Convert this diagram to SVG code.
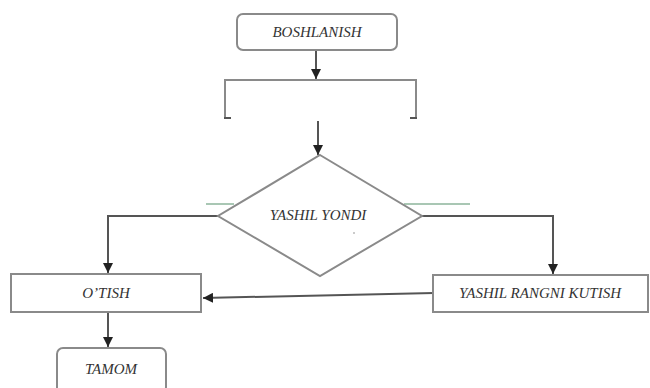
<svg xmlns="http://www.w3.org/2000/svg" width="650" height="388" viewBox="0 0 650 388">
<defs>
<style>
.box{fill:#fff;stroke:#8a8a8a;stroke-width:2}
.ln{fill:none;stroke:#555;stroke-width:2}
.t{font-family:"Liberation Serif","Times New Roman",serif;font-style:italic;font-size:15px;fill:#333;text-anchor:middle;dominant-baseline:central}
.g{stroke:#a9c7b4;stroke-width:2}
</style>
<marker id="ah" viewBox="0 0 10 10" refX="10" refY="5" markerWidth="5" markerHeight="5" orient="auto">
<path d="M0,0 L10,5 L0,10 z" fill="#222"/>
</marker>
</defs>
<rect width="650" height="388" fill="#fff"/>
<g id="decor">
<line class="g" x1="206" y1="204" x2="234" y2="204"/>
<line class="g" x1="404" y1="204" x2="470" y2="204"/>
</g>
<g id="connectors">
<line class="ln" x1="316" y1="50" x2="316" y2="79" marker-end="url(#ah)"/>
<line class="ln" x1="318" y1="121" x2="318" y2="155" marker-end="url(#ah)"/>
<polyline class="ln" points="218,216 108,216 108,273" marker-end="url(#ah)"/>
<polyline class="ln" points="422,216 553,216 553,274" marker-end="url(#ah)"/>
<line class="ln" x1="434" y1="293" x2="203" y2="298" marker-end="url(#ah)"/>
<line class="ln" x1="108" y1="312" x2="108" y2="347" marker-end="url(#ah)"/>
</g>
<g id="start">
<rect class="box" x="237" y="14" width="160" height="36" rx="6"/>
<text class="t" x="317" y="32">BOSHLANISH</text>
</g>
<g id="process">
<path class="box" d="M225,118 L225,80 L416,80 L416,118" fill="none"/>
<path class="ln" d="M224,118 L231,118 M410,118 L417,118" stroke="#8a8a8a"/>
</g>
<g id="decision">
<polygon class="box" points="320,155 422,216 320,276 218,216"/>
<text class="t" x="318" y="215">YASHIL YONDI</text>
<circle cx="354" cy="233" r="0.8" fill="#888"/>
</g>
<g id="otish">
<rect class="box" x="11" y="274" width="190" height="38"/>
<text class="t" x="106" y="293">O’TISH</text>
</g>
<g id="kutish">
<rect class="box" x="433" y="275" width="215" height="37"/>
<text class="t" x="540" y="293">YASHIL RANGNI KUTISH</text>
</g>
<g id="end">
<rect class="box" x="57" y="348" width="109" height="45" rx="6"/>
<text class="t" x="111" y="369">TAMOM</text>
</g>
</svg>
